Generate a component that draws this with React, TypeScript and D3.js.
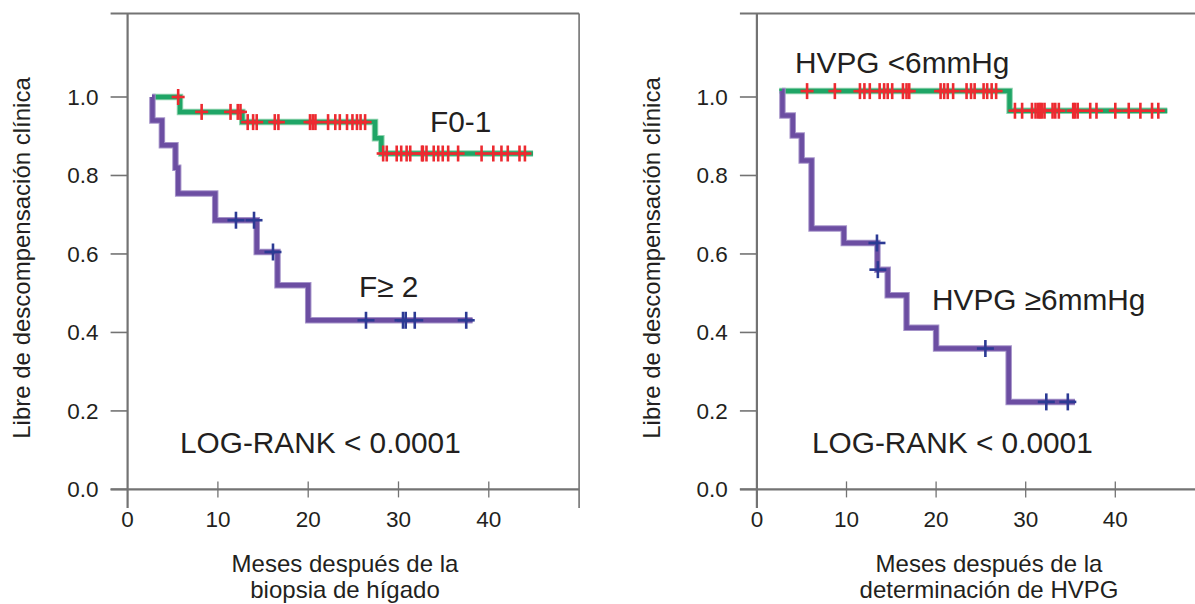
import React from "react";
import * as d3 from "d3";

// ---------- DATA ----------
const xTicks = [0, 10, 20, 30, 40];
const yTicks = [0, 0.2, 0.4, 0.6, 0.8, 1.0];
const yTickLabels = ["0.0", "0.2", "0.4", "0.6", "0.8", "1.0"];

// step curves: [time (months), survival]; level changes at each time
const leftF01Steps: [number, number][] = [
  [2.8, 1.0], [5.8, 0.962], [12.7, 0.936], [27.4, 0.895], [28.1, 0.856], [44.9, 0.856],
];
const leftF2Steps: [number, number][] = [
  [2.7, 1.0], [2.75, 0.94], [3.8, 0.877], [5.3, 0.82], [5.6, 0.754], [9.7, 0.686],
  [14.3, 0.605], [16.6, 0.52], [20.0, 0.431], [38.2, 0.431],
];
const leftF01Censor = [
  5.6, 8.2, 11.4, 12.2, 12.5, 13.3, 13.9, 14.3, 16.3, 16.7, 20.2, 20.5, 20.8, 22.2, 23.0,
  23.5, 24.3, 24.9, 25.4, 25.8, 26.3, 28.3, 28.7, 29.8, 30.3, 30.9, 31.3, 32.6, 32.7, 33.1,
  33.9, 34.4, 34.9, 35.5, 36.6, 39.2, 40.5, 41.4, 42.1, 43.4, 44.0,
];
const leftF2Censor = [12.0, 14.0, 16.1, 26.4, 30.5, 30.8, 31.8, 37.5];

const rightLowSteps: [number, number][] = [
  [2.5, 1.015], [28.2, 0.965], [45.8, 0.965],
];
const rightHighSteps: [number, number][] = [
  [2.8, 1.015], [2.85, 0.953], [4.0, 0.902], [5.0, 0.838], [6.1, 0.665], [9.7, 0.628],
  [13.45, 0.56], [14.6, 0.495], [16.7, 0.412], [20.0, 0.359], [28.1, 0.223], [35.5, 0.223],
];
const rightLowCensor = [
  5.6, 8.7, 11.5, 12.0, 12.6, 13.7, 14.2, 14.6, 15.1, 16.3, 16.7, 17.0, 20.5, 20.9, 21.3,
  21.9, 23.4, 23.9, 24.3, 25.3, 25.7, 26.2, 26.7, 28.8, 29.6, 30.7, 31.1, 31.4, 31.6, 31.8,
  32.1, 33.0, 33.3, 33.7, 35.3, 35.5, 35.8, 37.2, 37.9, 40.0, 41.5, 42.8, 44.1, 44.8,
];
const rightHighCensor = [13.4, 13.5, 25.5, 32.3, 34.7];

const yAxisTitle = "Libre de descompensación clínica";
const leftXTitle = ["Meses después de la", "biopsia de hígado"];
const rightXTitle = ["Meses después de la", "determinación de HVPG"];
const leftLabels = { good: "F0-1", bad: "F≥ 2" };
const rightLabels = { good: "HVPG <6mmHg", bad: "HVPG ≥6mmHg" };
const pText = "LOG-RANK < 0.0001";

// ---------- STYLE ----------
const FONT = "'Liberation Sans', Arial, Helvetica, sans-serif";
const AXIS = "#737373";
const GREEN = "#1fa566";
const PURPLE = "#6c4ea2";
const RED = "#ed2a30";
const BLUE = "#2c3a94";
const TEXT = "#231f20";

function levelAt(steps: [number, number][], t: number) {
  let s = steps[0][1];
  for (const [st, sv] of steps) if (st <= t) s = sv;
  return s;
}

type PanelProps = {
  x0: number; x1: number; xEndFrame: number; showRight: boolean;
  goodSteps: [number, number][]; badSteps: [number, number][];
  goodCensor: number[]; badCensor: number[];
  labels: { good: string; bad: string };
  goodPos: [number, number]; badPos: [number, number]; pPos: [number, number];
  xTitle: string[]; xTitleCx: number; yTitleCx: number;
};

function Panel(p: PanelProps) {
  const x = d3.scaleLinear().domain([0, 50]).range([p.x0, p.x1]);
  const y = d3.scaleLinear().domain([0, 1]).range([489.4, 97]);
  const yTop = 13.5;
  const yBottomExt = 508;
  const line = d3.line<[number, number]>()
    .x((d) => x(d[0])).y((d) => y(d[1])).curve(d3.curveStepAfter);
  const left = x(0);
  const right = p.showRight ? x(50) : p.xEndFrame;
  const censor = (ts: number[], steps: [number, number][], color: string, hw: number, hh: number, key: string) =>
    ts.map((t, i) => {
      const cx = x(t), cy = y(levelAt(steps, t));
      return (
        <g key={key + i} stroke={color} strokeWidth={2.6}>
          <line x1={cx - hw} x2={cx + hw} y1={cy} y2={cy} />
          <line x1={cx} x2={cx} y1={cy - hh} y2={cy + hh} />
        </g>
      );
    });
  return (
    <g>
      {/* frame */}
      <line x1={left - 17} x2={right} y1={yTop} y2={yTop} stroke={AXIS} strokeWidth={2} />
      <line x1={left} x2={left} y1={yTop} y2={yBottomExt} stroke={AXIS} strokeWidth={2.2} />
      {p.showRight && (
        <line x1={right} x2={right} y1={yTop} y2={yBottomExt} stroke={AXIS} strokeWidth={1.6} />
      )}
      <line x1={left - 17} x2={right} y1={y(0)} y2={y(0)} stroke={AXIS} strokeWidth={2.2} />
      {/* y ticks */}
      {yTicks.map((v, i) => (
        <g key={"yt" + i}>
          <line x1={left - 17} x2={left} y1={y(v)} y2={y(v)} stroke={AXIS} strokeWidth={1.6} />
          <text x={left - 29} y={y(v)} dy="0.35em" textAnchor="end" fontSize={22.5} fill={TEXT} fontFamily={FONT}>
            {yTickLabels[i]}
          </text>
        </g>
      ))}
      {/* x ticks */}
      {xTicks.map((v) => (
        <g key={"xt" + v}>
          {v !== 0 && (
            <line x1={x(v)} x2={x(v)} y1={y(0) - 8} y2={y(0) + 8} stroke={AXIS} strokeWidth={1.3} />
          )}
          <text x={x(v)} y={527} textAnchor="middle" fontSize={22.5} fill={TEXT} fontFamily={FONT}>
            {v}
          </text>
        </g>
      ))}
      {/* curves */}
      <path d={line(p.goodSteps) || ""} fill="none" stroke="#8fd3ae" strokeWidth={6.5} />
      <path d={line(p.goodSteps) || ""} fill="none" stroke={GREEN} strokeWidth={4.5} />
      <path d={line(p.badSteps) || ""} fill="none" stroke="#a593c9" strokeWidth={6.5} />
      <path d={line(p.badSteps) || ""} fill="none" stroke={PURPLE} strokeWidth={4.5} />
      {censor(p.goodCensor, p.goodSteps, RED, 6.5, 8, "gc")}
      {censor(p.badCensor, p.badSteps, BLUE, 8.5, 8.5, "bc")}
      {/* annotations */}
      <g fontFamily={FONT} fill={TEXT} fontSize={29.8}>
        <text x={p.goodPos[0]} y={p.goodPos[1]}>{p.labels.good}</text>
        <text x={p.badPos[0]} y={p.badPos[1]}>{p.labels.bad}</text>
        <text x={p.pPos[0]} y={p.pPos[1]}>{pText}</text>
      </g>
      {/* axis titles */}
      <g fontFamily={FONT} fill={TEXT} fontSize={24} textAnchor="middle">
        <text x={p.xTitleCx} y={572}>{p.xTitle[0]}</text>
        <text x={p.xTitleCx} y={598}>{p.xTitle[1]}</text>
        <text transform={`translate(${p.yTitleCx},258) rotate(-90)`} dy="0.35em">{yAxisTitle}</text>
      </g>
    </g>
  );
}

export default function App() {
  return (
    <svg width={1195} height={604} style={{ position: "absolute", left: 0, top: 0, background: "#fff" }}>
      <rect width={1195} height={604} fill="#fff" />
      <Panel
        x0={127.6} x1={579.1} xEndFrame={581} showRight={true}
        goodSteps={leftF01Steps} badSteps={leftF2Steps}
        goodCensor={leftF01Censor} badCensor={leftF2Censor}
        labels={leftLabels}
        goodPos={[430, 132]} badPos={[359, 297]} pPos={[180, 453]}
        xTitle={leftXTitle} xTitleCx={345} yTitleCx={22}
      />
      <Panel
        x0={756.9} x1={1204.9} xEndFrame={1195} showRight={false}
        goodSteps={rightLowSteps} badSteps={rightHighSteps}
        goodCensor={rightLowCensor} badCensor={rightHighCensor}
        labels={rightLabels}
        goodPos={[795, 73]} badPos={[932, 310]} pPos={[812, 453]}
        xTitle={rightXTitle} xTitleCx={989} yTitleCx={652}
      />
    </svg>
  );
}
